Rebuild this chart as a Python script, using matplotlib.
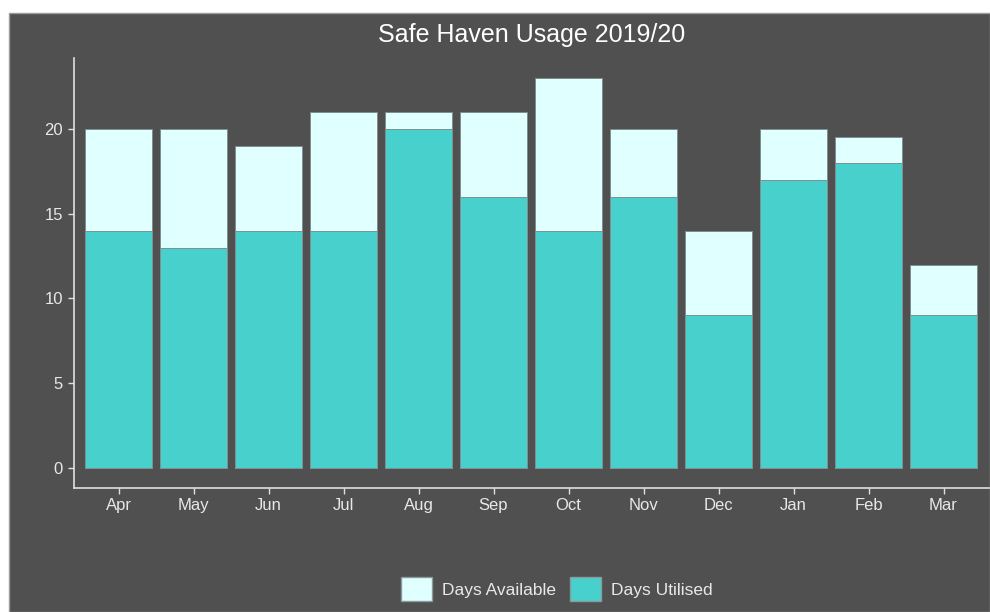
import numpy as np
import matplotlib.pyplot as plt
from matplotlib.patches import Patch, Rectangle

months = ["Apr", "May", "Jun", "Jul", "Aug", "Sep", "Oct", "Nov", "Dec", "Jan", "Feb", "Mar"]
days_available = [20, 20, 19, 21, 21, 21, 23, 20, 14, 20, 19.5, 12]
days_utilised = [14, 13, 14, 14, 20, 16, 14, 16, 9, 17, 18, 9]

bg = "#505050"
col_avail = "#e0ffff"
col_used = "#48d1cc"
txt = "#e8e8e8"

plt.rcParams["font.family"] = ["Liberation Sans", "DejaVu Sans"]

W, H = 990, 612
fig = plt.figure(figsize=(9.9, 6.12), dpi=100, facecolor="white")
fig.patches.append(Rectangle((9 / W, 0), 1 - 9 / W, 1 - 13 / H, transform=fig.transFigure,
                             facecolor=bg, edgecolor="#9a9a9a", linewidth=1, zorder=-10))

ax = fig.add_axes([73.5 / W, 1 - 488 / H, (988.5 - 73.5) / W, (488 - 58) / H])
ax.set_facecolor(bg)
ax.patch.set_alpha(0)

x = np.arange(1, len(months) + 1)
ax.bar(x, days_available, width=0.9, color=col_avail, edgecolor="#7f8f8f", linewidth=0.7)
ax.bar(x, days_utilised, width=0.9, color=col_used, edgecolor="#7f8f8f", linewidth=0.7)

ax.set_xlim(0.4, 12.6)
ax.set_ylim(-1.15, 24.15)
ax.set_xticks(x)
ax.set_xticklabels(months)
ax.set_yticks([0, 5, 10, 15, 20])

for s in ["top", "right"]:
    ax.spines[s].set_visible(False)
for s in ["left", "bottom"]:
    ax.spines[s].set_color("#e0e0e0")
    ax.spines[s].set_linewidth(1.2)
ax.tick_params(colors="#e0e0e0", labelcolor=txt, labelsize=12, length=4, width=1)

fig.text(532 / W, 1 - 35 / H, "Safe Haven Usage 2019/20", color="white",
         fontsize=18, ha="center", va="center")

handles = [Patch(facecolor=col_avail, edgecolor="#8a9a9a", label="Days Available"),
           Patch(facecolor=col_used, edgecolor="#8a9a9a", label="Days Utilised")]
leg = fig.legend(handles=handles, loc="center", bbox_to_anchor=(557 / W, 1 - 589 / H), ncol=2,
                 frameon=False, fontsize=12.5, handlelength=1.75, handleheight=1.75,
                 handletextpad=0.6, columnspacing=0.8)
for t in leg.get_texts():
    t.set_color(txt)

fig.savefig("out.png", dpi=100, facecolor=fig.get_facecolor())
